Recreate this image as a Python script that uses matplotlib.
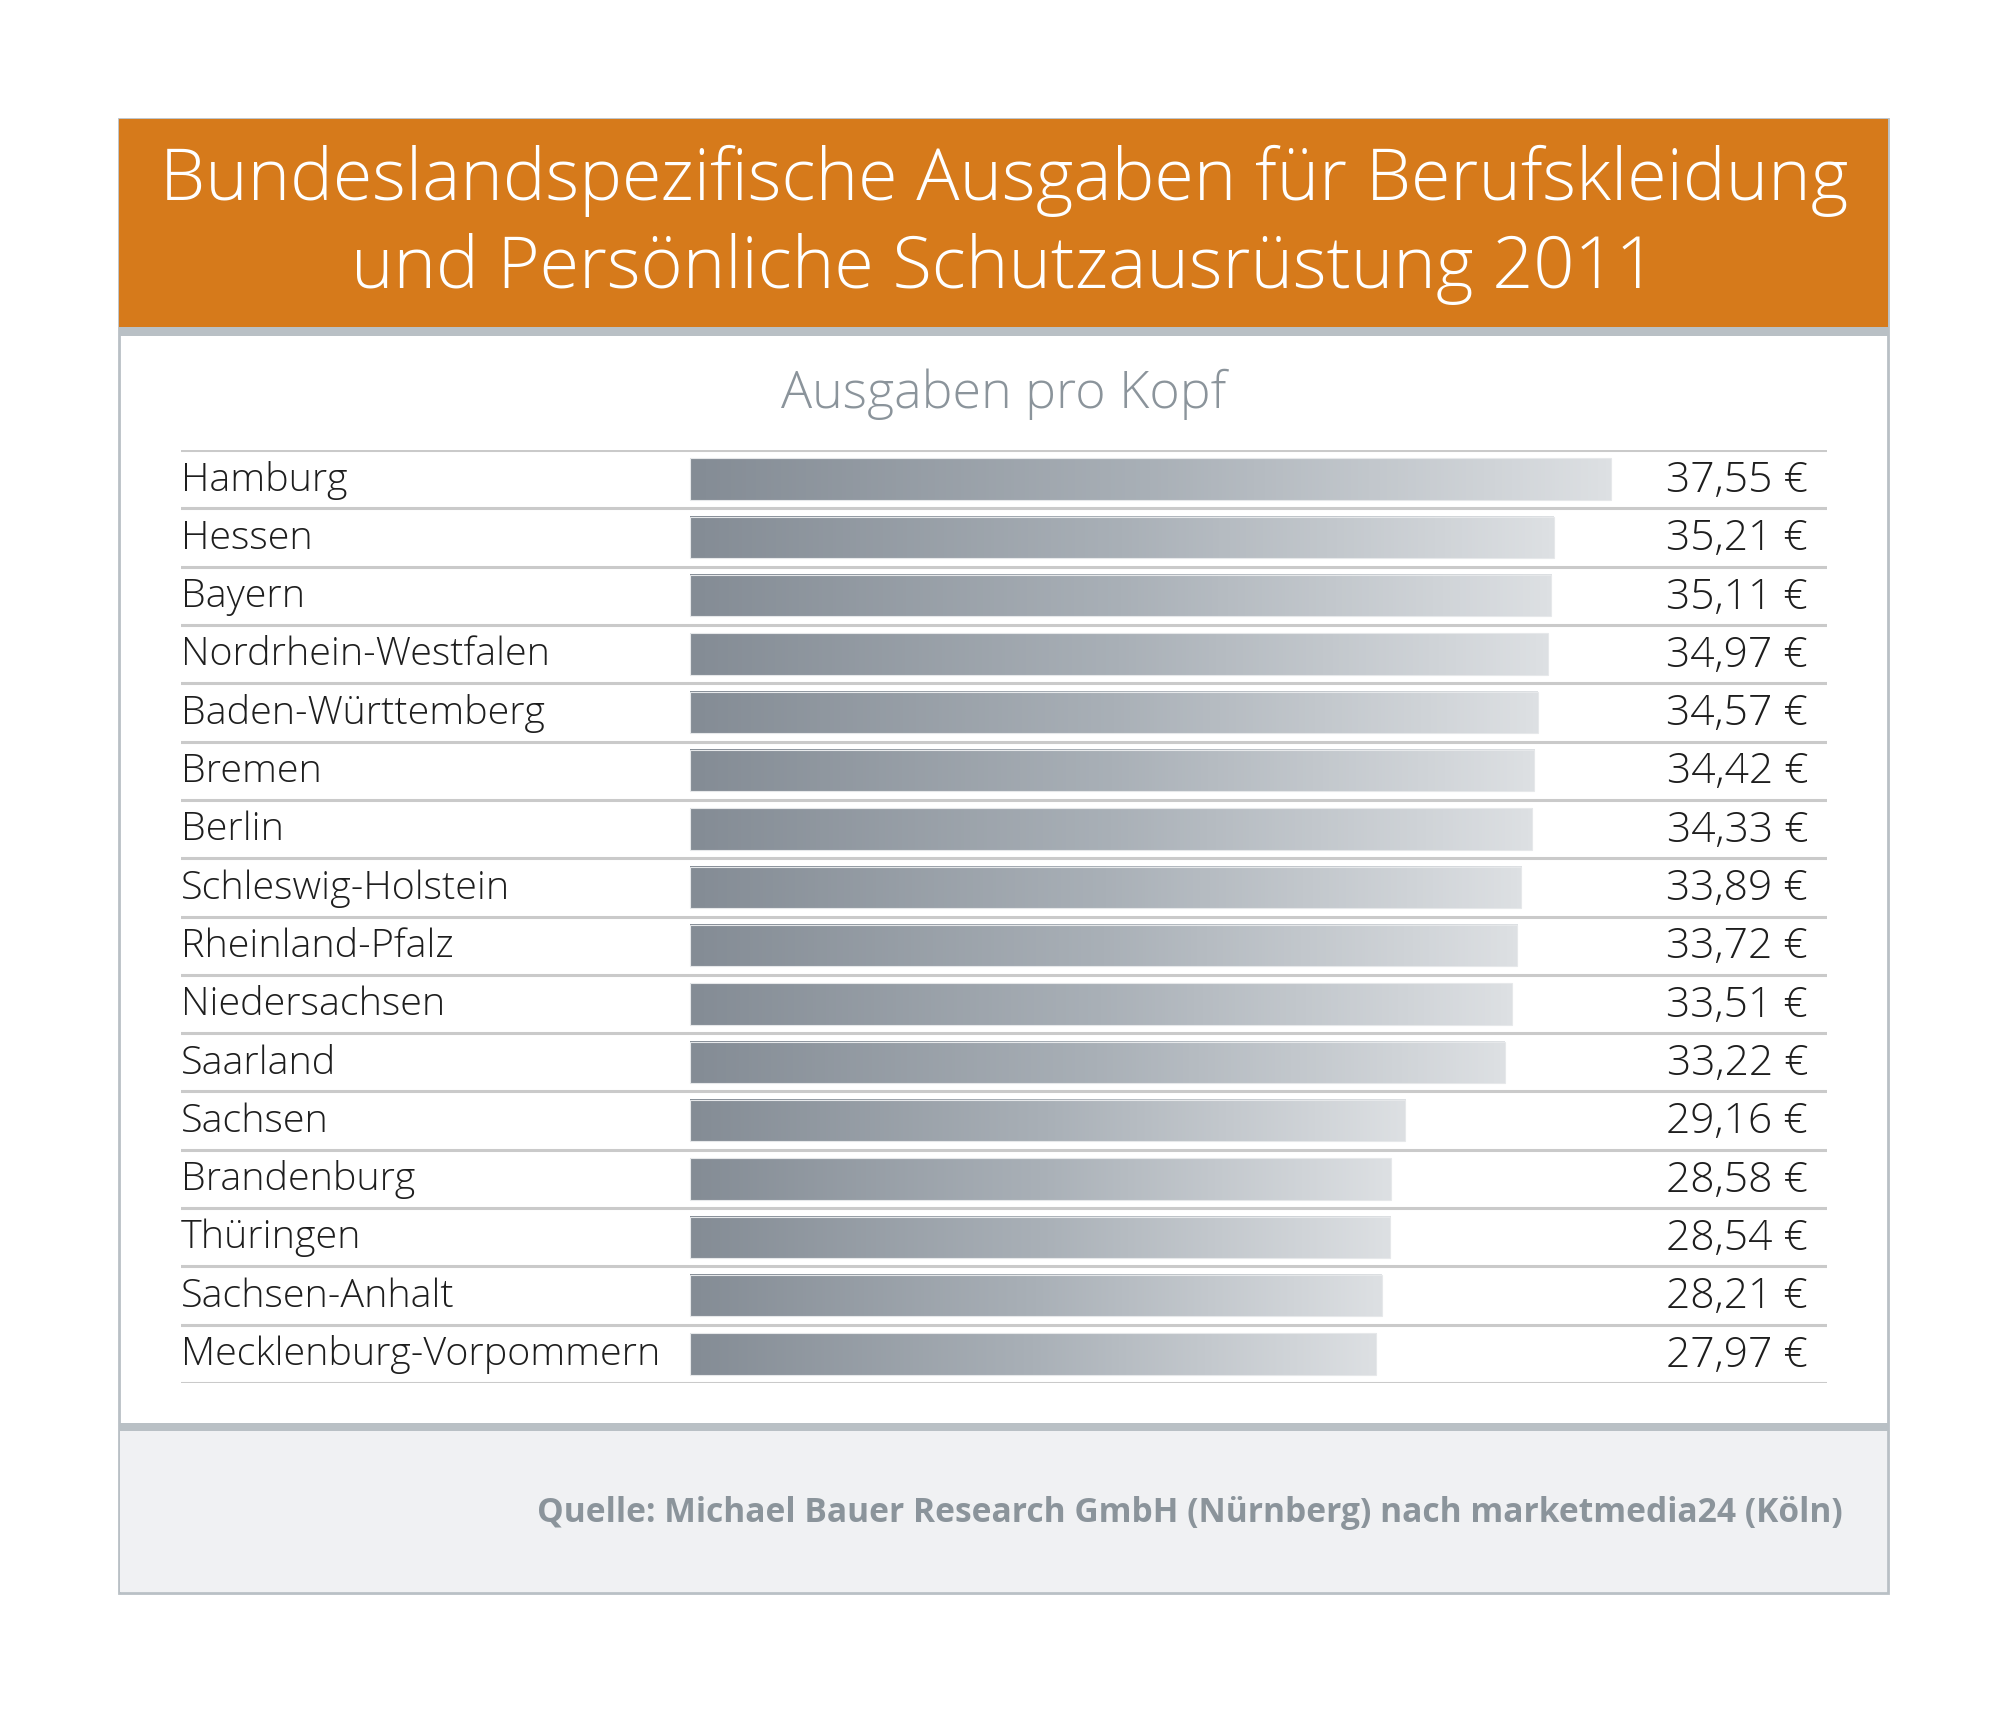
import matplotlib

matplotlib.use("Agg")
import matplotlib.pyplot as plt  # noqa: E402
import numpy as np  # noqa: E402
from matplotlib.colors import LinearSegmentedColormap  # noqa: E402
from matplotlib.patches import Rectangle  # noqa: E402

STATES = ["Hamburg", "Hessen", "Bayern", "Nordrhein-Westfalen", "Baden-Württemberg",
          "Bremen", "Berlin", "Schleswig-Holstein", "Rheinland-Pfalz", "Niedersachsen",
          "Saarland", "Sachsen", "Brandenburg", "Thüringen", "Sachsen-Anhalt",
          "Mecklenburg-Vorpommern"]
SPEND = [37.55, 35.21, 35.11, 34.97, 34.57, 34.42, 34.33, 33.89, 33.72, 33.51,
         33.22, 29.16, 28.58, 28.54, 28.21, 27.97]

TITLE = ["Bundeslandspezifische Ausgaben für Berufskleidung",
         "und Persönliche Schutzausrüstung 2011"]
SUBTITLE = "Ausgaben pro Kopf"
SOURCE = "Quelle: Michael Bauer Research GmbH (Nürnberg) nach marketmedia24 (Köln)"

W, H = 2010, 1713
ORANGE = "#d67a1b"
BAND = "#b9c0c5"
FOOT = "#f0f1f3"
RULE = "#cacaca"
INK = "#1e1e1e"
GREY_TXT = "#8b949b"
FONT = ["Open Sans", "DejaVu Sans"]

bar_cmap = LinearSegmentedColormap.from_list("bar", ["#848c95", "#a9b0b7", "#dde0e3"])

fig = plt.figure(figsize=(W / 100, H / 100), dpi=100)
fig.patch.set_facecolor("white")
renderer = fig.canvas.get_renderer()


def fit(t, width):
    bb = t.get_window_extent(renderer)
    t.set_fontsize(t.get_fontsize() * width / bb.width)


# ---- frame, header and footer drawn in pixel space ----
bg = fig.add_axes([0, 0, 1, 1], zorder=0)
bg.set_xlim(0, W)
bg.set_ylim(H, 0)
bg.axis("off")
bg.add_patch(Rectangle((119, 119), 1769, 1474, facecolor="white", edgecolor=BAND, lw=2))
bg.add_patch(Rectangle((119, 119), 1769, 208, facecolor=ORANGE, edgecolor="none"))
bg.add_patch(Rectangle((119, 327), 1769, 9, facecolor=BAND, edgecolor="none"))
bg.add_patch(Rectangle((120, 1431), 1767, 161, facecolor=FOOT, edgecolor="none"))
bg.add_patch(Rectangle((119, 1423), 1769, 8, facecolor=BAND, edgecolor="none"))

t1 = bg.text(1004, 200, TITLE[0], ha="center", va="baseline", color="white",
             fontsize=50, family=FONT, fontweight="light")
fit(t1, 1690)
t2 = bg.text(1004, 288, TITLE[1], ha="center", va="baseline", color="white",
             fontsize=t1.get_fontsize(), family=FONT, fontweight="light")
st = bg.text(1004, 408, SUBTITLE, ha="center", va="baseline", color=GREY_TXT,
             fontsize=30, family=FONT, fontweight="light")
fit(st, 445)
src = bg.text(1843, 1522, SOURCE, ha="right", va="baseline", color=GREY_TXT,
              fontsize=20, family=FONT, fontweight="bold")
fit(src, 1304)

# ---- bar area: rows of the table ----
x0_px, x1_px, bar_px, end_px = 181, 1827, 690, 1611
unit = (end_px - bar_px) / SPEND[0]
xmin = -(bar_px - x0_px) / unit
xmax = (x1_px - bar_px) / unit
top_px, bot_px = 450, 1383
ax = fig.add_axes([x0_px / W, 1 - bot_px / H, (x1_px - x0_px) / W, (bot_px - top_px) / H],
                  zorder=1)
ax.set_xlim(xmin, xmax)
ax.set_ylim(len(STATES), 0)
ax.axis("off")

bar_h = 0.71
grad = np.linspace(0, 1, 256).reshape(1, -1)
for i, v in enumerate(SPEND):
    y0, y1 = i + 0.5 - bar_h / 2, i + 0.5 + bar_h / 2
    ax.imshow(grad, extent=[0, v, y1, y0], cmap=bar_cmap, aspect="auto",
              interpolation="bilinear", zorder=2)
    ax.add_patch(Rectangle((0, y0), v, bar_h, facecolor="none", edgecolor="#e6e8ea",
                           lw=0.8, zorder=3))
for k in range(len(STATES) + 1):
    ax.axhline(k, color=RULE, lw=2.2, zorder=1)
ax.set_xlim(xmin, xmax)
ax.set_ylim(len(STATES), 0)

names, vals = [], []
for i, (name, v) in enumerate(zip(STATES, SPEND)):
    names.append(ax.text(xmin, i + 0.44, name, ha="left", va="center_baseline",
                         color=INK, fontsize=24, family=FONT, fontweight="light"))
    vals.append(ax.text(xmin + (1808 - x0_px) / unit, i + 0.44,
                        f"{v:.2f}".replace(".", ",") + " €", ha="right",
                        va="center_baseline", color=INK, fontsize=24, family=FONT,
                        fontweight="light"))
fit(names[-1], 481)
fit(vals[0], 142)
for t in names:
    t.set_fontsize(names[-1].get_fontsize())
for t in vals:
    t.set_fontsize(vals[0].get_fontsize())

fig.savefig("out.png", dpi=100, facecolor="white")
